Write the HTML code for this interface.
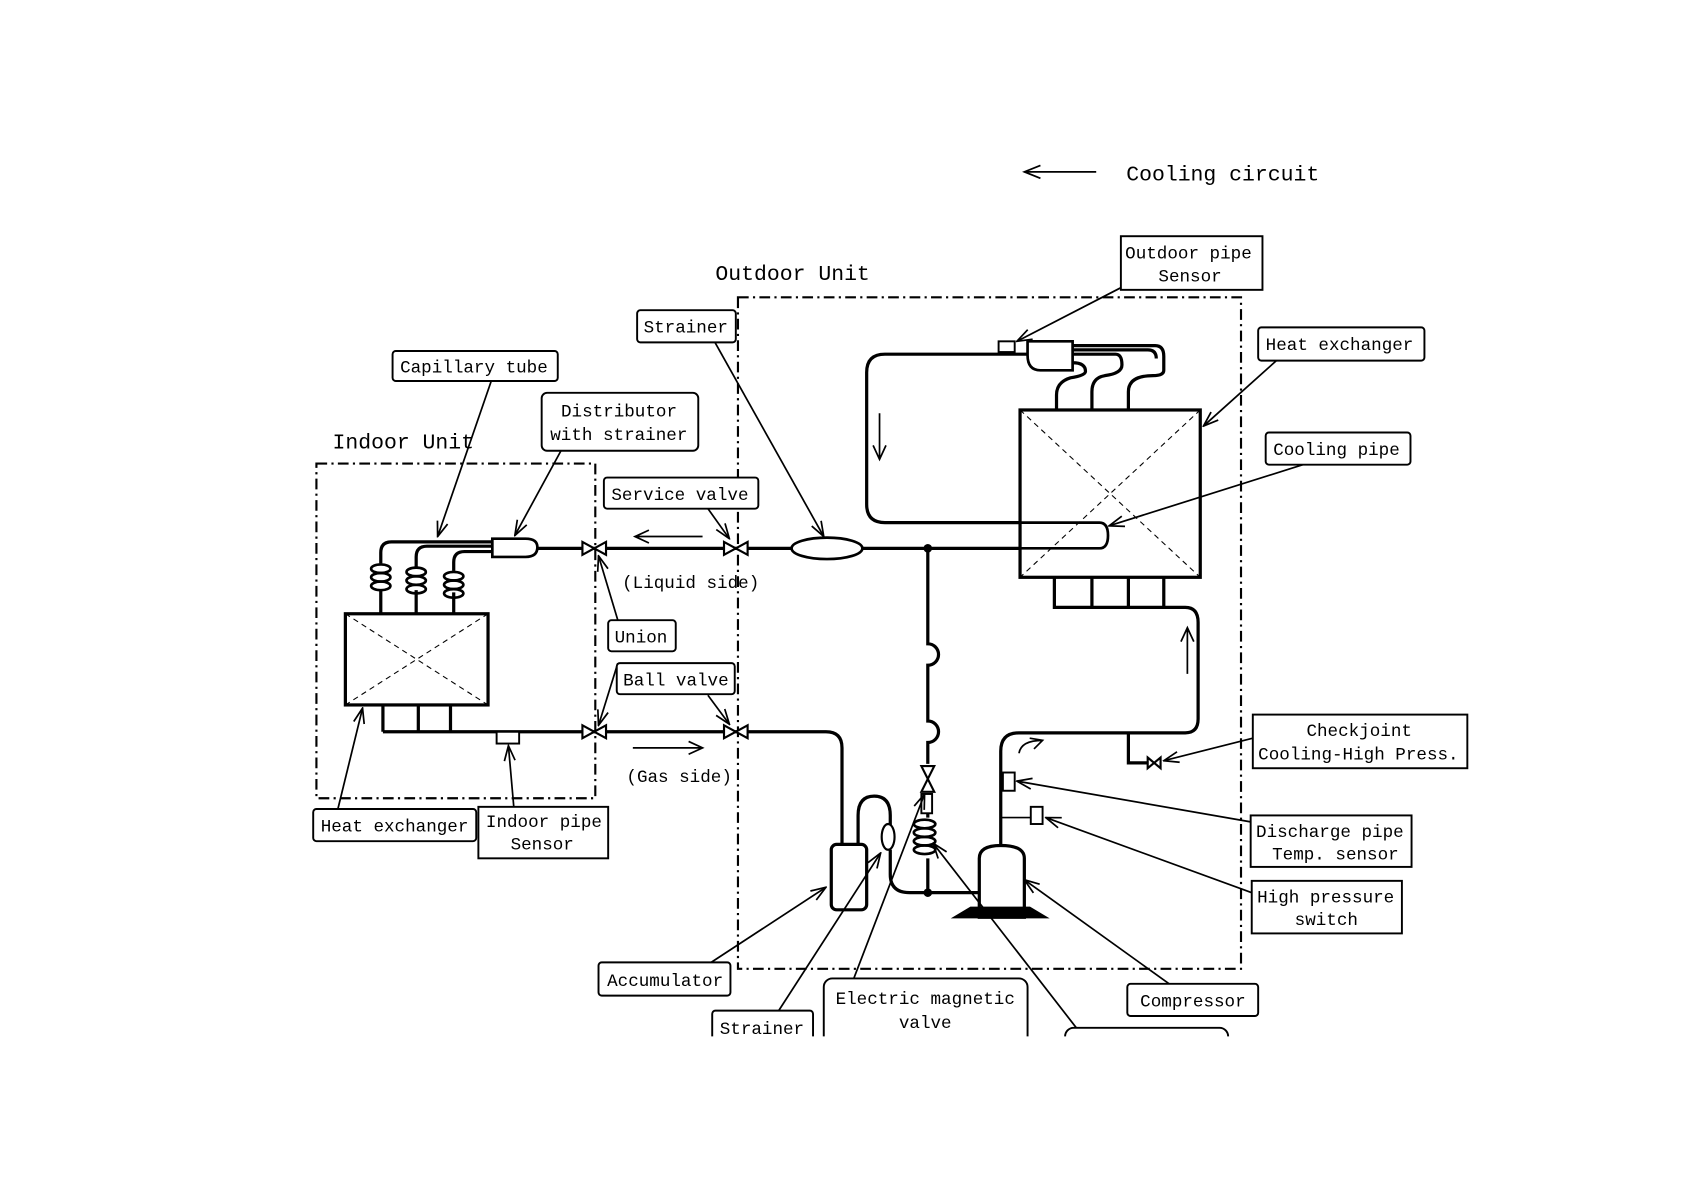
<!DOCTYPE html>
<html><head><meta charset="utf-8"><style>
html,body{margin:0;padding:0;background:#fff}
svg{display:block}
text{font-family:"Liberation Mono",monospace;font-size:16.4px;fill:#000}
</style></head><body>
<svg width="1684" height="1190" viewBox="0 0 1570 1109" xmlns="http://www.w3.org/2000/svg">
<defs>
<marker id="a" markerWidth="16" markerHeight="12" refX="15" refY="6" orient="auto" markerUnits="userSpaceOnUse">
<path d="M1,1 L15,6 L1,11" fill="none" stroke="#000" stroke-width="1.6"/>
</marker>
</defs>
<rect width="1570" height="1109" fill="#fff"/>
<g fill="none" stroke="#000" stroke-width="1.6">
<rect x="688" y="277" width="469" height="626" stroke-dasharray="10,4,2,4" stroke-width="2"/>
<rect x="295" y="432" width="260" height="312" stroke-dasharray="10,4,2,4" stroke-width="2"/>
<line x1="955" y1="160" x2="1022" y2="160"/>
</g>
<path d="M970,154 L955,160 L970,166" fill="none" stroke="#000" stroke-width="1.6"/>
<text x="1050" y="168" style="font-size:20px">Cooling circuit</text>
<text x="667" y="261" style="font-size:20px">Outdoor Unit</text>
<text x="310" y="418" style="font-size:20px">Indoor Unit</text>

<g fill="none" stroke="#000" stroke-width="3">
<line x1="500" y1="511" x2="738" y2="511"/>
<line x1="804" y1="511" x2="950" y2="511"/>
<path d="M459,505 L365,505 Q355,505 355,515 L355,525"/>
<path d="M459,509 L398,509 Q388,509 388,519 L388,528"/>
<path d="M459,514 L433,514 Q423,514 423,524 L423,532"/>
<path d="M355,550 L355,572 M388,550 L388,572 M423,552 L423,572"/>
<rect x="322" y="572" width="133" height="85"/>
<path d="M357,657 V682 M390,657 V682 M420,657 V682"/>
<path d="M357,682 H770 Q785,682 785,697 V787"/>
<rect x="775" y="787" width="33" height="61" rx="5"/>
<path d="M800,787 V760 Q800,742 815,742 Q830,742 830,760 V770"/>
<path d="M830,792 V815 Q830,832 848,832 H913"/>
<path d="M865,511 V600 A10,10 0 0 1 865,620 V672 A10,10 0 0 1 865,692 V712"/>
<path d="M865,740 V762 M865,800 V832"/>
<path d="M913,855 V800 Q913,788 933,788 Q955,788 955,800 V855 Z"/>
<path d="M933,788 V700 Q933,683 950,683 H1105 Q1117,683 1117,670 V580 Q1117,566 1105,566 H983 V538 M1018,566 V538 M1052,566 V538 M1085,566 V538"/>
<path d="M1052,683 V711 H1070"/>
<path d="M933,762 H961" stroke-width="1.6"/>
<rect x="951" y="382" width="168" height="156"/>
<path d="M950,487 H825 Q808,487 808,470 V347 Q808,330 825,330 H958"/>
<path d="M950,487 H1025 Q1033,487 1033,499 Q1033,511 1025,511 H950" stroke-width="2.5"/>
<path d="M1000,322 H1077 Q1085,322 1085,332 V345 Q1085,350 1075,350 Q1052,350 1052,365 V382"/>
<path d="M1000,330 H1040 Q1046,330 1046,340 Q1046,348 1030,350 Q1018,352 1018,365 V382"/>
<path d="M1000,338 Q1012,338 1012,346 Q1012,350 998,352 Q985,356 985,368 V382"/>
<path d="M1000,326 H1070 Q1078,326 1078,334"/>
</g>
<g fill="none" stroke="#000" stroke-width="1">
<path d="M951,382 L1119,538 M1119,382 L951,538" stroke-dasharray="5,4"/>
<path d="M322,572 L455,657 M455,572 L322,657" stroke-dasharray="5,4"/>
</g>
<g fill="#fff" stroke="#000" stroke-width="2.5">
<path d="M459,502 H490 Q501,502 501,510 Q501,519 490,519 H459 Z"/>
<ellipse cx="771" cy="511" rx="33" ry="10"/>
<rect x="463" y="682" width="21" height="11" stroke-width="1.8"/>
<ellipse cx="828" cy="780" rx="6" ry="12" stroke-width="2"/>
<rect x="931" y="318" width="15" height="10" stroke-width="1.8"/>
<path d="M958,318 H1000 V345 H970 Q958,345 958,331 Z"/>
<rect x="935" y="720" width="11" height="17" stroke-width="1.8"/>
<rect x="961" y="752" width="11" height="16" stroke-width="1.8"/>
<rect x="859" y="740" width="10" height="18" stroke-width="1.8"/>
</g>
<g fill="none" stroke="#000" stroke-width="2.5">
<ellipse cx="355" cy="530" rx="9" ry="4"/><ellipse cx="355" cy="538" rx="9" ry="4"/><ellipse cx="355" cy="546" rx="9" ry="4"/>
<ellipse cx="388" cy="533" rx="9" ry="4"/><ellipse cx="388" cy="541" rx="9" ry="4"/><ellipse cx="388" cy="549" rx="9" ry="4"/>
<ellipse cx="423" cy="537" rx="9" ry="4"/><ellipse cx="423" cy="545" rx="9" ry="4"/><ellipse cx="423" cy="553" rx="9" ry="4"/>
<ellipse cx="862" cy="768" rx="10" ry="4"/><ellipse cx="862" cy="776" rx="10" ry="4"/><ellipse cx="862" cy="784" rx="10" ry="4"/><ellipse cx="862" cy="792" rx="10" ry="4"/>
</g>
<g fill="#fff" stroke="#000" stroke-width="2">
<path d="M543,505 L565,517 V505 L543,517 Z"/>
<path d="M675,505 L697,517 V505 L675,517 Z"/>
<path d="M543,676 L565,688 V676 L543,688 Z"/>
<path d="M675,676 L697,688 V676 L675,688 Z"/>
<path d="M1070,706 L1082,716 V706 L1070,716 Z"/>
<path d="M859,714 L871,714 L859,738 L871,738 Z"/>
<path d="M890,855 H975 L960,846 H905 Z" fill="#000"/>
</g>
<circle cx="865" cy="511" r="4"/><circle cx="865" cy="832" r="4"/>
<g fill="none" stroke="#000" stroke-width="1.6">
<path d="M655,500 H592 M605,494 L592,500 L605,506"/>
<path d="M590,697 H655 M642,691 L655,697 L642,703"/>
<path d="M820,385 V428 M814,415 L820,428 L826,415"/>
<path d="M1107,628 V585 M1101,598 L1107,585 L1113,598"/>
<path d="M950,702 Q952,690 972,690 M960,688 L972,690 L964,698"/>
</g>
<g fill="none" stroke="#000" stroke-width="1.6" marker-end="url(#a)">
<line x1="1045" y1="268" x2="948" y2="318"/>
<line x1="1190" y1="336" x2="1122" y2="397"/>
<line x1="1218" y1="432" x2="1034" y2="490"/>
<line x1="666" y1="318" x2="768" y2="500"/>
<line x1="458" y1="355" x2="408" y2="500"/>
<line x1="523" y1="420" x2="480" y2="499"/>
<line x1="660" y1="474" x2="680" y2="502"/>
<line x1="576" y1="578" x2="558" y2="518"/>
<line x1="576" y1="618" x2="558" y2="676"/>
<line x1="660" y1="648" x2="680" y2="675"/>
<line x1="1168" y1="688" x2="1085" y2="709"/>
<line x1="1166" y1="766" x2="948" y2="728"/>
<line x1="1167" y1="832" x2="975" y2="762"/>
<line x1="315" y1="754" x2="338" y2="660"/>
<line x1="479" y1="752" x2="474" y2="695"/>
<line x1="663" y1="897" x2="770" y2="827"/>
<line x1="726" y1="942" x2="821" y2="795"/>
<line x1="796" y1="912" x2="862" y2="740"/>
<line x1="1005" y1="960" x2="870" y2="786"/>
<line x1="1090" y1="917" x2="955" y2="820"/>
</g>
<g fill="#fff" stroke="#000" stroke-width="1.8">
<rect x="1045" y="220" width="132" height="50"/>
<rect x="1173" y="305" width="155" height="31" rx="3"/>
<rect x="1180" y="403" width="135" height="30" rx="3"/>
<rect x="594" y="289" width="92" height="30" rx="3"/>
<rect x="366" y="327" width="154" height="28" rx="3"/>
<rect x="505" y="366" width="146" height="54" rx="5"/>
<rect x="563" y="445" width="144" height="29" rx="3"/>
<rect x="567" y="578" width="63" height="29" rx="3"/>
<rect x="575" y="618" width="110" height="29" rx="3"/>
<rect x="1168" y="666" width="200" height="50"/>
<rect x="1166" y="760" width="150" height="48"/>
<rect x="1167" y="821" width="140" height="49"/>
<rect x="292" y="754" width="152" height="30" rx="3"/>
<rect x="446" y="752" width="121" height="48"/>
<rect x="558" y="897" width="123" height="31" rx="3"/>
<rect x="664" y="942" width="94" height="40" rx="3"/>
<rect x="768" y="912" width="190" height="70" rx="8"/>
<rect x="1051" y="917" width="122" height="30" rx="3"/>
<rect x="993" y="958" width="152" height="40" rx="8"/>
</g>
<rect x="280" y="966" width="1000" height="143" fill="#fff"/>
<g>
<text x="1049" y="241">Outdoor pipe</text><text x="1080" y="262">Sensor</text>
<text x="1180" y="326">Heat exchanger</text>
<text x="1187" y="424">Cooling pipe</text>
<text x="600" y="310">Strainer</text>
<text x="373" y="347">Capillary tube</text>
<text x="523" y="388">Distributor</text><text x="513" y="410">with strainer</text>
<text x="570" y="466">Service valve</text>
<text x="580" y="548">(Liquid side)</text>
<text x="573" y="599">Union</text>
<text x="581" y="639">Ball valve</text>
<text x="584" y="729">(Gas side)</text>
<text x="1218" y="686">Checkjoint</text><text x="1173" y="708">Cooling-High Press.</text>
<text x="1171" y="780">Discharge pipe</text><text x="1186" y="801">Temp. sensor</text>
<text x="1172" y="841">High pressure</text><text x="1207" y="862">switch</text>
<text x="299" y="775">Heat exchanger</text>
<text x="453" y="771">Indoor pipe</text><text x="476" y="792">Sensor</text>
<text x="566" y="919">Accumulator</text>
<text x="671" y="964">Strainer</text>
<text x="779" y="936">Electric magnetic</text><text x="838" y="958">valve</text>
<text x="1063" y="938">Compressor</text>
</g>
</svg>
</body></html>
